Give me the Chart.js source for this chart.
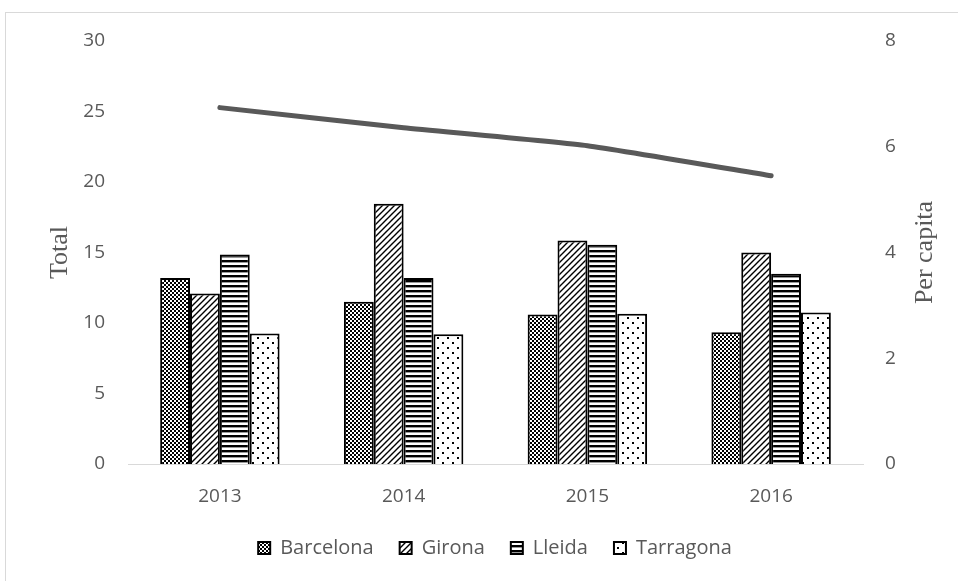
<!DOCTYPE html>
<html>
<head>
<meta charset="utf-8">
<script src="https://cdn.jsdelivr.net/npm/chart.js@4"></script>
<style>
    html, body { margin: 0; padding: 0; background: #fff; overflow: hidden; }
    #wrap { position: relative; width: 958px; height: 581px; }
    #frame { position: absolute; left: 5px; top: 12px; width: 1000px; height: 600px; border: 1px solid #d9d9d9; }
    canvas { position: absolute; left: 0; top: 0; }
</style>
</head>
<body>
<div id="wrap">
    <div id="frame"></div>
    <canvas id="chart" width="958" height="581"></canvas>
</div>
<script>
const years     = ["2013", "2014", "2015", "2016"];
const barcelona = [13.2, 11.5, 10.6, 9.35];
const girona    = [12.1, 18.45, 15.85, 15.0];
const lleida    = [14.85, 13.2, 15.55, 13.5];
const tarragona = [9.25, 9.2, 10.65, 10.75];
const perCapita = [6.74, 6.36, 6.02, 5.45];

const GREY = "#595959";
const FONT = "'Open Sans', 'Liberation Sans', sans-serif";

// ── Fill patterns for the bars ──────────────────────────────────────────────
function makePattern(size, draw) {
    const c = document.createElement("canvas");
    c.width = size; c.height = size;
    const g = c.getContext("2d");
    g.fillStyle = "#fff";
    g.fillRect(0, 0, size, size);
    g.fillStyle = "#000";
    g.strokeStyle = "#000";
    draw(g, size);
    return document.createElement("canvas").getContext("2d").createPattern(c, "repeat");
}

const checker = makePattern(4, (g) => {
    g.fillRect(0, 0, 2, 2);
    g.fillRect(2, 2, 2, 2);
});

const diagonal = makePattern(6, (g, s) => {
    g.lineWidth = 1.4;
    g.beginPath();
    g.moveTo(-1, s + 1); g.lineTo(s + 1, -1);
    g.moveTo(-1, 1); g.lineTo(1, -1);
    g.moveTo(s - 1, s + 1); g.lineTo(s + 1, s - 1);
    g.stroke();
});

const stripes = makePattern(5, (g, s) => {
    g.fillRect(0, 0, s, 2);
    g.fillStyle = "#999";
    g.fillRect(0, 2, s, 1);
});

const dots = makePattern(10, (g) => {
    g.fillRect(2, 2, 2, 2);
    g.fillRect(7, 7, 2, 2);
});

// Axis titles: both read bottom-to-top
const axisTitles = {
    id: "axisTitles",
    afterLayout(chart) {
        // nudge the legend row a little to the right
        chart.legend.left += 32;
    },
    afterDraw(chart) {
        const ctx = chart.ctx;
        const midY = (chart.chartArea.top + chart.chartArea.bottom) / 2;
        ctx.save();
        ctx.font = "26px 'Liberation Serif', 'Times New Roman', serif";
        ctx.fillStyle = GREY;
        ctx.textAlign = "center";
        ctx.textBaseline = "middle";
        [[60, "Total"], [925, "Per capita"]].forEach(([x, text]) => {
            ctx.save();
            ctx.translate(x, midY);
            ctx.rotate(-Math.PI / 2);
            ctx.fillText(text, 0, 0);
            ctx.restore();
        });
        ctx.restore();
    }
};

function barSet(label, data, fill) {
    return {
        type: "bar",
        label: label,
        data: data,
        yAxisID: "y",
        backgroundColor: fill,
        borderColor: "#000",
        borderWidth: 2,
        categoryPercentage: 0.65,
        barPercentage: 1.0,
        order: 2,
    };
}

new Chart(document.getElementById("chart"), {
    data: {
        labels: years,
        datasets: [
            barSet("Barcelona", barcelona, checker),
            barSet("Girona", girona, diagonal),
            barSet("Lleida", lleida, stripes),
            barSet("Tarragona", tarragona, dots),
            {
                type: "line",
                label: "Per capita",
                data: perCapita,
                yAxisID: "y1",
                borderColor: GREY,
                borderWidth: 5,
                borderCapStyle: "round",
                tension: 0.15,
                pointRadius: 0,
                fill: false,
                order: 1,
            }
        ]
    },
    options: {
        responsive: false,
        animation: false,
        layout: { padding: { top: 41, bottom: 13, left: 0, right: 0 } },
        plugins: {
            tooltip: { enabled: false },
            legend: {
                position: "bottom",
                labels: {
                    filter: (item) => item.text !== "Per capita",
                    boxWidth: 12,
                    boxHeight: 12,
                    padding: 26,
                    color: GREY,
                    font: { family: FONT, size: 20 },
                }
            }
        },
        scales: {
            x: {
                grid: { display: false },
                border: { display: true, color: "#d9d9d9", width: 1 },
                ticks: { color: GREY, font: { family: FONT, size: 19 }, padding: 13 },
                afterFit: (s) => { s.height = 48; }
            },
            y: {
                position: "left",
                min: 0, max: 30,
                grid: { display: false, drawTicks: false },
                border: { display: false },
                ticks: { stepSize: 5, color: GREY, font: { family: FONT, size: 19 }, padding: 23 },
                afterFit: (s) => { s.width = 128; }
            },
            y1: {
                position: "right",
                min: 0, max: 8,
                grid: { display: false, drawTicks: false },
                border: { display: false },
                ticks: { stepSize: 2, color: GREY, font: { family: FONT, size: 19 }, padding: 22 },
                afterFit: (s) => { s.width = 95; }
            }
        }
    },
    plugins: [axisTitles]
});
</script>
</body>
</html>
